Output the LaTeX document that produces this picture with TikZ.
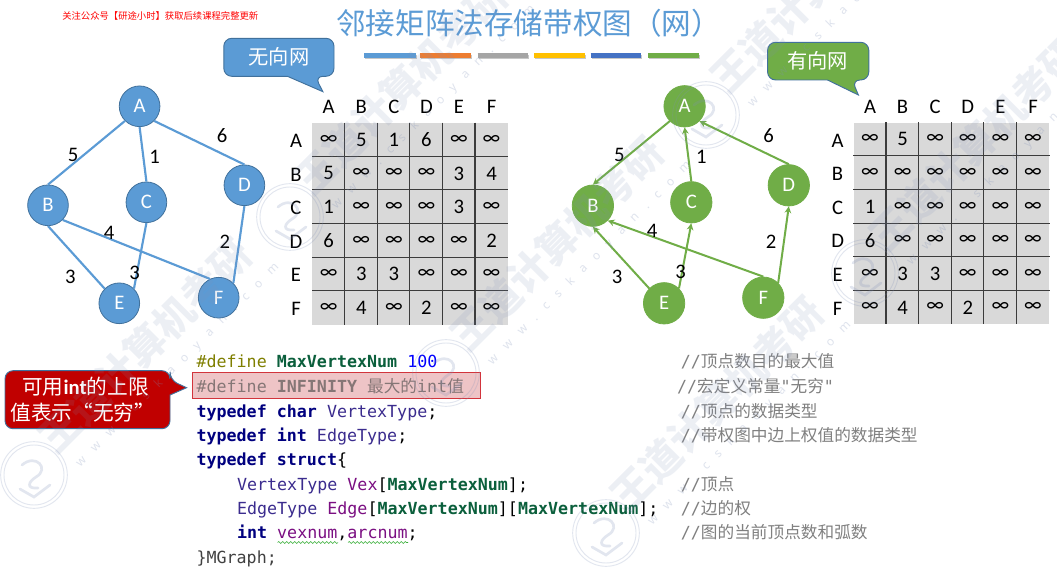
\documentclass[tikz,border=0pt]{standalone}
\usepackage{fontspec}
\setmainfont{Carlito}
\setmonofont{DejaVu Sans Mono}
\newfontfamily\cjkf{Noto Sans CJK SC}
\newfontfamily\wmlat[LetterSpace=95]{Noto Sans}
\usetikzlibrary{arrows.meta,decorations.pathmorphing}
\definecolor{tblue}{HTML}{5B9BD5}
\definecolor{tgreen}{HTML}{70AD47}
\definecolor{edgeblue}{HTML}{41719C}
\definecolor{cellgray}{HTML}{D9D9D9}
\definecolor{tblline}{HTML}{3C3C3C}
\definecolor{kwnavy}{HTML}{00007F}
\definecolor{macrogreen}{HTML}{0B5F3C}
\definecolor{olive}{HTML}{7F7F00}
\definecolor{typeblue}{HTML}{3B2C8E}
\definecolor{fieldpurple}{HTML}{7B0F82}
\definecolor{cmtgray}{HTML}{808080}
\definecolor{wmcol}{HTML}{7F90B8}
\definecolor{dkred}{HTML}{C00000}
\definecolor{hlfill}{HTML}{EEC4C6}
\definecolor{hlline}{HTML}{D2343C}
\definecolor{hltext}{HTML}{857676}
\newcommand\inff{∞}
\newcommand\lblfont{\fontsize{15.5}{18}\selectfont}
\newcommand\kw[1]{\textbf{\textcolor{kwnavy}{#1}}}
\newcommand\mac[1]{\textbf{\textcolor{macrogreen}{#1}}}
\newcommand\typ[1]{\textcolor{typeblue}{#1}}
\newcommand\fld[1]{\textcolor{fieldpurple}{#1}}
\tikzset{
  x=0.75pt,y=-0.75pt,
  vblue/.style={circle,fill=tblue,draw=edgeblue,line width=0.6pt,minimum size=30.5pt,inner sep=0pt,text=white,font=\lblfont},
  vgreen/.style={circle,fill=tgreen,draw=tgreen,line width=0.6pt,minimum size=31pt,inner sep=0pt,text=white,font=\lblfont},
  eblue/.style={draw=tblue,line width=1.6pt},
  egreen/.style={draw=tgreen,line width=1.5pt,-{Stealth[length=5pt,width=5pt]}},
  wlabel/.style={font=\lblfont,text=black,inner sep=0pt},
  cellbox/.style={fill=cellgray,inner sep=0pt,font=\lblfont},
  tline/.style={draw=tblline,line width=0.85pt},
  bar/.style={line width=3.7pt},
  barshadow/.style={line width=3.7pt,draw=black,opacity=.22},
  codeline/.style={anchor=base west,inner sep=0pt,font=\ttfamily\fontsize{12.5}{15}\selectfont},
  cmtline/.style={anchor=base west,inner sep=0pt,text=cmtgray,font=\ttfamily\fontsize{12.5}{15}\selectfont},
  calltext/.style={text=white,inner sep=0pt,font=\cjkf\fontsize{15.2}{18}\selectfont},
  redtext/.style={text=white,inner sep=0pt,font=\cjkf\fontsize{15.5}{18}\selectfont},
  wmbig/.style={anchor=west,rotate=45,inner sep=0pt,text=wmcol,opacity=.14,font=\cjkf\bfseries\fontsize{30}{34}\selectfont},
  wmsmall/.style={anchor=west,rotate=45,inner sep=0pt,text=wmcol,opacity=.25,font=\wmlat\fontsize{9}{11}\selectfont},
  wmseal/.style={draw=wmcol,opacity=.22,line width=0.7pt},
}
\newcommand\mktable[6]{%
  % prefix, x0, y0, dx, dy, row-label offset, rows via \tablerows
  \foreach \rw [count=\r] in \tablerows {
    \foreach \v [count=\c] in \rw {
      \pgfmathsetmacro\cx{#2+(\c-.5)*#4}
      \pgfmathsetmacro\cy{#3+(\r-.5)*#5}
      \node[cellbox,minimum width=#4*0.75pt,minimum height=#5*0.75pt] (#1-\r-\c) at (\cx,\cy) {\v};
    }
  }
  \foreach \c/\t in {1/A,2/B,3/C,4/D,5/E,6/F}{
    \pgfmathsetmacro\cx{#2+(\c-.5)*#4}
    \pgfmathsetmacro\cy{#3+(\c-.5)*#5+1}
    \node[wlabel] (#1-col-\c) at (\cx,107) {\t};
    \pgfmathsetmacro\lx{#2-#6}
    \node[wlabel] (#1-row-\c) at (\lx,\cy) {\t};
  }
  \foreach \c in {2,...,6}{
    \draw[tline] (#1-1-\c.north west) -- (#1-6-\c.south west);
    \draw[tline] (#1-\c-1.north west) -- (#1-\c-6.north east);
  }
}
\newcommand\sealwm[3]{%
  \draw[wmseal] (#2,#3) circle[radius=25pt];
  \draw[wmseal] (#2,#3) circle[radius=22.5pt];
  \draw[wmseal,line width=2pt,line cap=round] (#2-12,#3-10) .. controls (#2+2,#3-22) and (#2+16,#3-6) .. (#2+2,#3+2) .. controls (#2-6,#3+7) and (#2-8,#3+14) .. (#2+4,#3+13);
  \draw[wmseal,line width=2pt,line cap=round] (#2-14,#3+14) -- (#2,#3+22) -- (#2+16,#3+10);
  \node[wmsmall] (wt#1) at (#2+44,#3-10) {www.cskaoyan.com};
  \node[wmbig] (wb#1) at (#2+12,#3-30) {王道计算机考研};
}
\begin{document}
\begin{tikzpicture}
\useasboundingbox (0,0) rectangle (1057,570);
\fill[white] (0,0) rectangle (1057,570);

% header
\node[anchor=west,inner sep=0pt,text=red,font=\cjkf\fontsize{7}{8}\selectfont] (notice) at (62,16) {关注公众号【研途小时】获取后续课程完整更新};
\node[anchor=west,inner sep=0pt,text=tblue,font=\cjkf\fontsize{22.2}{26}\selectfont] (title) at (336,23) {邻接矩阵法存储带权图（网）};
\foreach \a/\b/\col [count=\i] in {364.4/415.5/5B9BD5,420/471/ED7D31,477.7/528.4/A5A5A5,534.4/585.1/FFC000,590.5/641.3/4472C4,648.3/699/70AD47}{
  \coordinate (ba\i) at (\a,55.5);
  \coordinate (bb\i) at (\b,55.5);
  \coordinate (sa\i) at (\a+1,57);
  \coordinate (sb\i) at (\b+1,57);
  \draw[barshadow] (sa\i) -- (sb\i);
  \definecolor{barc}{HTML}{\col}
  \draw[bar,draw=barc] (ba\i) -- (bb\i);
}

% callouts
\draw[fill=tblue,draw=edgeblue,line width=0.7pt,rounded corners=6pt]
  (223.8,38.3) -- (334,38.3) -- (334,76.3) -- (315,76.3)[sharp corners] -- (322.9,91.7) -- (287.4,76.3)[rounded corners=6pt] -- (223.8,76.3) -- cycle;
\node[calltext] (callblue) at (279,57) {无向网};
\draw[fill=tgreen,draw=edgeblue,line width=0.7pt,rounded corners=6pt]
  (767.6,42.3) -- (868.8,42.3) -- (868.8,80) -- (852,80)[sharp corners] -- (858.4,95) -- (827.5,80)[rounded corners=6pt] -- (767.6,80) -- cycle;
\node[calltext] (callgreen) at (817.4,61) {有向网};

% undirected graph
\node[vblue] (A) at (139.6,106.3) {A};
\node[vblue] (B) at (48,205.3) {B};
\node[vblue] (C) at (146.4,202.3) {C};
\node[vblue] (D) at (244.4,185.3) {D};
\node[vblue] (E) at (119.3,303.3) {E};
\node[vblue] (F) at (218.7,297.7) {F};
\draw[eblue] (A.south west) -- (B.north);
\draw[eblue] (A.south) -- (C.north);
\draw[eblue] (A.south east) -- (D.north);
\draw[eblue] (B.south) -- (E.north west);
\draw[eblue] (B.south east) -- (F.115);
\draw[eblue] (C.south) -- (E.north east);
\draw[eblue] (D.south) -- (F.north east);
\node[wlabel] (l5) at (73,154.7) {5};
\node[wlabel] (l1) at (154.5,157.3) {1};
\node[wlabel] (l6) at (222,135.7) {6};
\node[wlabel] (l4) at (109,233.3) {4};
\node[wlabel] (l2) at (224.8,241.7) {2};
\node[wlabel] (l3a) at (70.3,276.7) {3};
\node[wlabel] (l3b) at (134.5,272.7) {3};

% directed graph
\node[vgreen] (GA) at (684.6,106.3) {A};
\node[vgreen] (GB) at (592.9,205.7) {B};
\node[vgreen] (GC) at (691.3,202.3) {C};
\node[vgreen] (GD) at (788.8,185.3) {D};
\node[vgreen] (GE) at (664.1,303.3) {E};
\node[vgreen] (GF) at (763.3,297.7) {F};
\draw[egreen] (GA.south west) -- (GB.north);
\draw[egreen] (GC.north) -- (GA.south);
\draw[egreen] (GD.north) -- (GA.south east);
\draw[egreen] (GE.north west) -- (GB.south);
\draw[egreen] (GE.north east) -- (GC.south);
\draw[egreen] (GF.north) -- (GB.south east);
\draw[egreen] (GF.north east) -- (GD.south);
\node[wlabel] (m5) at (619.4,154.7) {5};
\node[wlabel] (m1) at (701.4,157.3) {1};
\node[wlabel] (m6) at (768.7,135.7) {6};
\node[wlabel] (m4) at (652,230.7) {4};
\node[wlabel] (m2) at (771,241.7) {2};
\node[wlabel] (m3a) at (617,276.7) {3};
\node[wlabel] (m3b) at (680.6,271.7) {3};

% matrices
\def\tablerows{{\inff,5,1,6,\inff,\inff},{5,\inff,\inff,\inff,3,4},{1,\inff,\inff,\inff,3,\inff},{6,\inff,\inff,\inff,\inff,2},{\inff,3,3,\inff,\inff,\inff},{\inff,4,\inff,2,\inff,\inff}}
\mktable{L}{312.4}{123}{32.57}{33.6}{16.4}
\def\tablerows{{\inff,5,\inff,\inff,\inff,\inff},{\inff,\inff,\inff,\inff,\inff,\inff},{1,\inff,\inff,\inff,\inff,\inff},{6,\inff,\inff,\inff,\inff,\inff},{\inff,3,3,\inff,\inff,\inff},{\inff,4,\inff,2,\inff,\inff}}
\mktable{R}{853.7}{122.6}{32.6}{33.6}{16.1}

% red callout
\draw[fill=dkred,draw=edgeblue,line width=0.7pt,rounded corners=6pt]
  (5,370.7) -- (170,370.7) -- (170,380)[sharp corners] -- (186.6,387.7) -- (170,395)[rounded corners=6pt] -- (170,428.7) -- (5,428.7) -- cycle;
\node[redtext] (redA) at (85.5,387) {可用{\rmfamily\bfseries\fontsize{15.5}{18}\selectfont int}的上限};
\node[redtext] (redB) at (83,412.7) {值表示“无穷”};

% highlight
\node[draw=hlline,fill=hlfill,line width=0.8pt,inner sep=0pt,minimum width=216pt,minimum height=19.5pt] (hl) at (336.85,385.7) {};

% code
\node[codeline] (c1) at (196.3,368) {\textcolor{olive}{\#define} \mac{MaxVertexNum} \textcolor{blue}{100}};
\node[codeline,text=hltext] (c2) at (196.3,392.5) {\#define \textbf{INFINITY} {\cjkf 最大的}int{\cjkf 值}};
\node[codeline] (c3) at (196.3,417) {\kw{typedef} \kw{char} \typ{VertexType};};
\node[codeline] (c4) at (196.3,441) {\kw{typedef} \kw{int} \typ{EdgeType};};
\node[codeline] (c5) at (196.3,465.5) {\kw{typedef} \kw{struct}\{};
\node[codeline] (c6) at (236.8,490) {\typ{VertexType} \fld{Vex}[\mac{MaxVertexNum}];};
\node[codeline] (c7) at (236.8,514) {\typ{EdgeType} \fld{Edge}[\mac{MaxVertexNum}][\mac{MaxVertexNum}];};
\node[codeline] (c8) at (236.8,538.5) {\kw{int} \fld{vexnum},\fld{arcnum};};
\node[codeline,text=black!75] (c9) at (196.3,563) {\}MGraph;};
\coordinate (sq1a) at (277.5,542.5); \coordinate (sq1b) at (338,542.5);
\coordinate (sq2a) at (348,542.5); \coordinate (sq2b) at (408,542.5);
\draw[green!60!black!80,line width=0.4pt,decorate,decoration={snake,amplitude=0.7pt,segment length=3pt}] (sq1a) -- (sq1b);
\draw[green!60!black!80,line width=0.4pt,decorate,decoration={snake,amplitude=0.7pt,segment length=3pt}] (sq2a) -- (sq2b);

% comments
\node[cmtline] (k1) at (680.6,368) {//{\cjkf 顶点数目的最大值}};
\node[cmtline] (k2) at (676.9,392.5) {//{\cjkf 宏定义常量}"{\cjkf 无穷}"};
\node[cmtline] (k3) at (680.6,417) {//{\cjkf 顶点的数据类型}};
\node[cmtline] (k4) at (680.6,441) {//{\cjkf 带权图中边上权值的数据类型}};
\node[cmtline] (k6) at (680.6,490) {//{\cjkf 顶点}};
\node[cmtline] (k7) at (680.6,514) {//{\cjkf 边的权}};
\node[cmtline] (k8) at (680.6,538.5) {//{\cjkf 图的当前顶点数和弧数}};

% watermark
\sealwm{1}{290}{217}
\sealwm{2}{706}{115}
\sealwm{3}{865}{273}
\sealwm{4}{34}{475}
\sealwm{5}{446}{373}
\sealwm{6}{606}{533}
\end{tikzpicture}
\end{document}
